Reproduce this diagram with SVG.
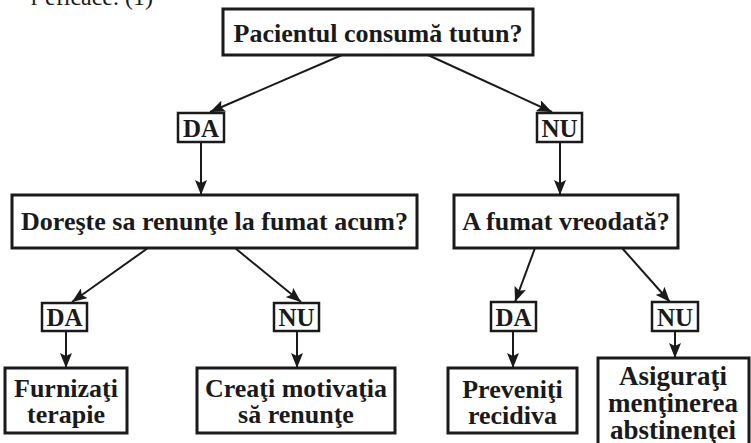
<svg xmlns="http://www.w3.org/2000/svg" width="751" height="443" viewBox="0 0 751 443">
<style>
.bg{fill:#ffffff}
.box{fill:#ffffff;stroke:#1a1a1a;stroke-width:3}
.lbl{fill:#ffffff;stroke:#1a1a1a;stroke-width:2.5}
.t{font-family:"Liberation Serif","Times New Roman",serif;font-weight:bold;font-size:26px;fill:#1a1a1a;text-anchor:middle}
.s{font-size:25px}
.cap{font-family:"Liberation Serif","Times New Roman",serif;font-size:24px;fill:#1a1a1a;text-anchor:end}
.c line{stroke:#1a1a1a;stroke-width:2;marker-end:url(#ah)}
</style>
<defs>
<marker id="ah" markerUnits="userSpaceOnUse" markerWidth="16" markerHeight="12" refX="15" refY="6" orient="auto">
<path d="M0,0 L15,6 L0,12 L3,6 z" fill="#1a1a1a"/>
</marker>
</defs>
<rect class="bg" x="0" y="0" width="751" height="443"/>
<text class="cap" x="153" y="5">r eficace. (1)</text>
<g id="connectors" class="c">
<line x1="342" y1="55" x2="210" y2="112"/>
<line x1="428" y1="55" x2="552" y2="112"/>
<line x1="201" y1="142" x2="201" y2="195"/>
<line x1="560" y1="142" x2="560" y2="195"/>
<line x1="148" y1="248" x2="72" y2="302"/>
<line x1="235" y1="248" x2="301" y2="302"/>
<line x1="535" y1="248" x2="515" y2="302"/>
<line x1="622" y1="248" x2="670" y2="302"/>
<line x1="66" y1="331" x2="66" y2="368"/>
<line x1="297" y1="331" x2="297" y2="368"/>
<line x1="513" y1="331" x2="513" y2="368"/>
<line x1="675" y1="331" x2="675" y2="358"/>
</g>
<g id="n-top">
<rect class="box" x="223" y="9" width="310" height="46"/>
<text class="t" x="378" y="42">Pacientul consumă tutun?</text>
</g>
<g id="l-da1">
<rect class="lbl" x="178" y="113" width="46" height="29"/>
<text class="t s" x="201" y="137">DA</text>
</g>
<g id="l-nu1">
<rect class="lbl" x="537" y="113" width="45" height="29"/>
<text class="t s" x="559.5" y="137">NU</text>
</g>
<g id="n-doreste">
<rect class="box" x="12" y="195" width="405" height="53"/>
<text class="t" x="214.5" y="230">Doreşte sa renunţe la fumat acum?</text>
</g>
<g id="n-afumat">
<rect class="box" x="454" y="195" width="224" height="53"/>
<text class="t" x="566" y="230">A fumat vreodată?</text>
</g>
<g id="l-da2">
<rect class="lbl" x="42" y="303" width="45" height="28"/>
<text class="t s" x="64.5" y="326">DA</text>
</g>
<g id="l-nu2">
<rect class="lbl" x="274" y="303" width="45" height="28"/>
<text class="t s" x="296.5" y="326">NU</text>
</g>
<g id="l-da3">
<rect class="lbl" x="491" y="302" width="45" height="29"/>
<text class="t s" x="513.5" y="326">DA</text>
</g>
<g id="l-nu3">
<rect class="lbl" x="652" y="302" width="46" height="29"/>
<text class="t s" x="675" y="326">NU</text>
</g>
<g id="n-furnizati">
<rect class="box" x="5" y="368" width="122" height="65"/>
<text class="t" x="66" y="397">Furnizaţi</text>
<text class="t" x="66" y="423">terapie</text>
</g>
<g id="n-creati">
<rect class="box" x="197" y="368" width="198" height="65"/>
<text class="t" x="296" y="397">Creaţi motivaţia</text>
<text class="t" x="296" y="423">să renunţe</text>
</g>
<g id="n-preveniti">
<rect class="box" x="448" y="368" width="129" height="65"/>
<text class="t" x="512.5" y="398">Preveniţi</text>
<text class="t" x="512.5" y="424">recidiva</text>
</g>
<g id="n-asigurati">
<rect class="box" x="598" y="358" width="151" height="100"/>
<text class="t" x="673" y="385" style="font-size:27px">Asiguraţi</text>
<text class="t" x="673" y="412" style="font-size:27px">menţinerea</text>
<text class="t" x="673" y="439" style="font-size:27px">abstinenţei</text>
</g>
</svg>
